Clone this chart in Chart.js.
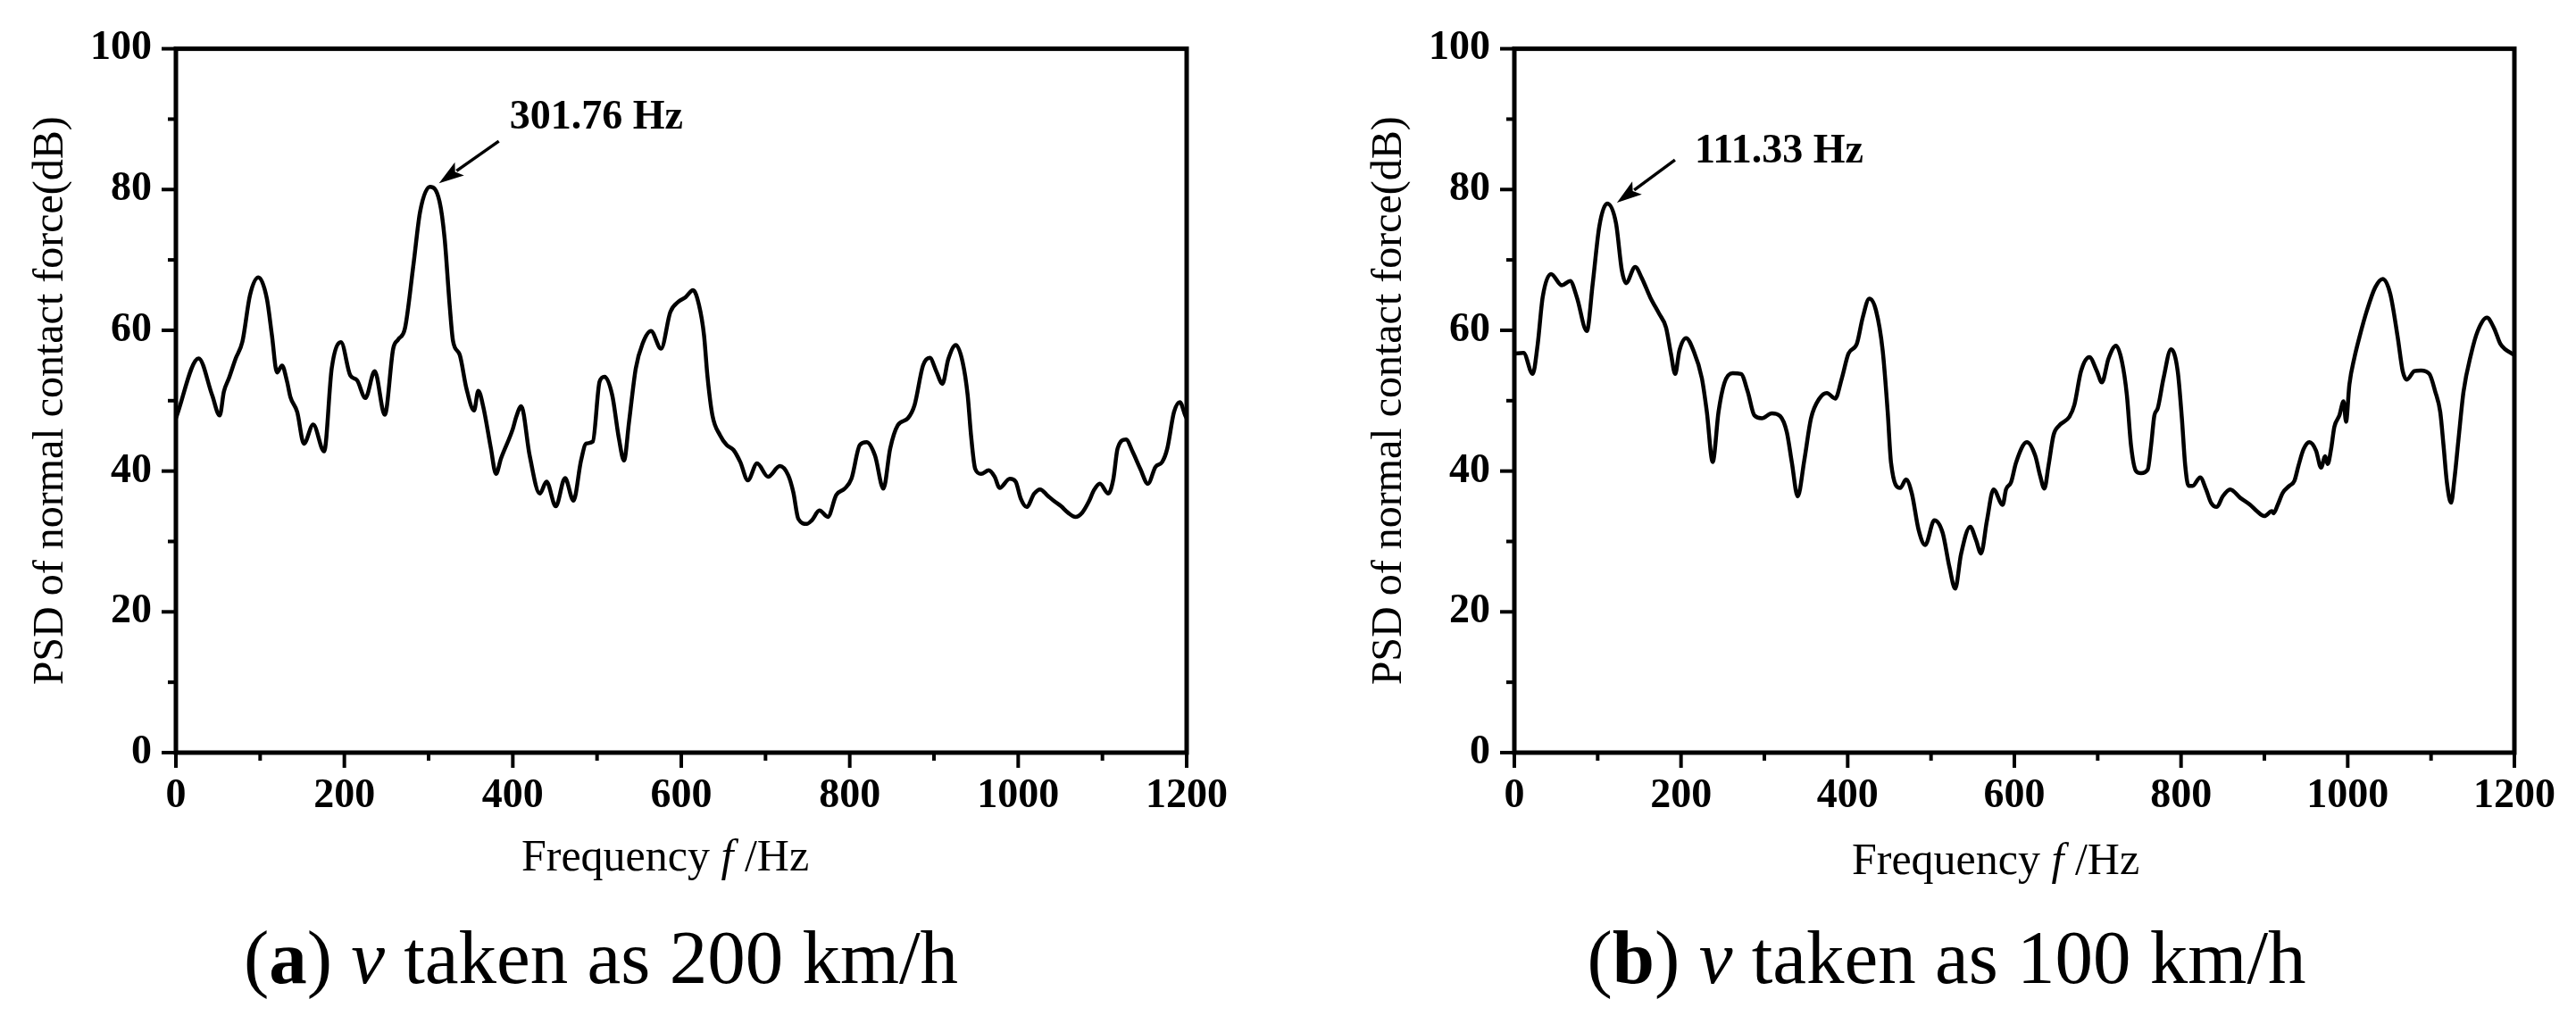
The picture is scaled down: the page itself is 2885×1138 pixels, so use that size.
<!DOCTYPE html>
<html>
<head>
<meta charset="utf-8">
<script src="https://cdn.jsdelivr.net/npm/chart.js@4.4.1/dist/chart.umd.min.js"></script>
<style>
  html, body { margin: 0; padding: 0; background: #fff; }
  body { width: 2885px; height: 1138px; position: relative; overflow: hidden; font-family: 'Liberation Serif', 'Times New Roman', serif; color: #000; }
  .cv { position: absolute; top: 0; }
  .txt { position: absolute; white-space: nowrap; line-height: 1; color: #000; font-family: 'Liberation Serif', 'Times New Roman', serif; }
  .xt { font-size: 50px; transform: translateX(-50%); }
  .cap { font-size: 85px; transform: translateX(-50%); }
</style>
</head>
<body>
<canvas id="chartA" class="cv" style="left:0px" width="1440" height="1000"></canvas>
<canvas id="chartB" class="cv" style="left:1440px" width="1445" height="1000"></canvas>

<div class="txt xt" style="left:745px; top:933px;">Frequency <i>f</i> /Hz</div>
<div class="txt xt" style="left:2235px; top:937px;">Frequency <i>f</i> /Hz</div>
<div class="txt cap" style="left:673px; top:1030px;">(<b>a</b>) <i>v</i> taken as 200 km/h</div>
<div class="txt cap" style="left:2180px; top:1030px;">(<b>b</b>) <i>v</i> taken as 100 km/h</div>

<script>
// ---------------- DATA ----------------
const xTicks = [0, 200, 400, 600, 800, 1000, 1200];
const xMinorTicks = [0, 100, 200, 300, 400, 500, 600, 700, 800, 900, 1000, 1100, 1200];
const yTicks = [0, 20, 40, 60, 80, 100];
const yMinorTicks = [0, 10, 20, 30, 40, 50, 60, 70, 80, 90, 100];

const yTitle = 'PSD of normal contact force(dB)';

// (a) v = 200 km/h
const freqA = [
  0, 27, 43, 52, 57, 63, 71, 79, 88, 98,
  108, 114, 120, 126, 132, 136, 144, 152, 163, 176,
  185, 196, 207, 215, 225, 236, 248, 258, 264, 272,
  282, 290, 301.76, 313, 319, 325, 329, 337, 345, 354,
  359, 365, 374, 380, 386, 400, 404, 410, 420, 432,
  440, 451, 462, 472, 481, 487, 495, 503, 509, 518,
  526, 532, 538, 546, 554, 564, 576, 587, 597, 605,
  614, 621, 627, 631, 637, 646, 654, 662, 670, 679,
  690, 703, 717, 727, 733, 739, 749, 755, 764, 774,
  784, 794, 802, 812, 820, 830, 840, 848, 857, 869,
  877, 887, 895, 903, 910, 917, 926, 934, 940, 944,
  949, 956, 965, 972, 978, 990, 997, 1003, 1010, 1019,
  1026, 1035, 1043, 1051, 1059, 1068, 1076, 1084, 1090, 1097,
  1107, 1113, 1118, 1128, 1136, 1145, 1154, 1163, 1171, 1177,
  1185, 1192, 1198, 1200
];
const psdA = [
  47.5, 56.0, 50.8, 47.9, 51.3, 53.2, 56.0, 58.4, 65.0, 67.5,
  64.5, 59.3, 54.0, 55.0, 52.7, 50.5, 48.4, 43.9, 46.6, 42.8,
  54.6, 58.3, 53.6, 52.9, 50.4, 54.2, 48.0, 57.4, 58.7, 60.3,
  69.3, 76.9, 80.4, 78.3, 73.1, 63.6, 58.5, 56.5, 51.7, 48.6,
  51.4, 49.1, 43.2, 39.6, 41.8, 46.0, 47.7, 49.2, 42.2, 36.8,
  38.5, 35.0, 39.0, 35.8, 41.5, 43.9, 44.2, 52.7, 53.4, 50.8,
  44.6, 41.5, 47.0, 54.6, 58.1, 59.9, 57.4, 62.6, 64.1, 64.7,
  65.7, 63.6, 59.3, 53.6, 47.9, 45.1, 43.7, 43.0, 41.3, 38.7,
  41.1, 39.2, 40.7, 39.4, 37.0, 33.2, 32.5, 33.0, 34.4, 33.5,
  36.6, 37.5, 38.9, 43.7, 44.1, 42.2, 37.5, 43.2, 46.5, 47.5,
  49.4, 55.0, 56.1, 54.1, 52.4, 55.9, 57.9, 55.5, 50.8, 45.1,
  40.3, 39.6, 40.1, 39.2, 37.6, 38.9, 38.5, 36.1, 34.9, 36.8,
  37.4, 36.5, 35.7, 35.0, 34.1, 33.5, 34.1, 35.7, 37.3, 38.2,
  36.8, 38.9, 43.2, 44.5, 42.7, 40.3, 38.2, 40.6, 41.3, 43.2,
  48.4, 49.8, 48.0, 47.5
];
const peakA = { f: 301.76, psd: 80.4, label: '301.76 Hz' };

// (b) v = 100 km/h
const freqB = [
  0, 11, 22, 28, 34, 44, 57, 67, 75, 87,
  94, 102, 111.33, 122, 129, 134, 145, 153, 163, 174,
  182, 188, 193, 198, 206, 215, 225, 231, 238, 245,
  252, 262, 272, 280, 288, 297, 309, 319, 327, 333,
  340, 348, 356, 366, 375, 385, 393, 401, 411, 418,
  426, 434, 442, 448, 452, 463, 470, 477, 485, 493,
  504, 514, 522, 529, 536, 547, 554, 560, 567, 575,
  586, 590, 596, 602, 615, 625, 631, 636, 641, 647,
  654, 666, 672, 680, 690, 699, 705, 713, 722, 729,
  735, 740, 746, 752, 760, 764, 768, 772, 779, 788,
  796, 801, 805, 809, 814, 823, 830, 836, 843, 850,
  859, 871, 883, 891, 900, 909, 911, 916, 922, 930,
  936, 941, 947, 954, 962, 968, 973, 976, 980, 984,
  990, 995, 998, 1002, 1008, 1014, 1023, 1033, 1042, 1051,
  1060, 1066, 1071, 1080, 1088, 1098, 1105, 1111, 1115, 1119,
  1124, 1128, 1133, 1139, 1148, 1156, 1167, 1176, 1183, 1189,
  1197, 1200
];
const psdB = [
  56.7, 56.8, 53.8, 58.0, 64.7, 68.0, 66.4, 67.0, 64.7, 59.9,
  66.6, 74.8, 78.0, 75.2, 68.5, 66.7, 69.0, 67.4, 64.7, 62.3,
  60.4, 56.6, 53.8, 57.1, 58.9, 57.1, 53.2, 48.4, 41.3, 48.4,
  52.5, 53.9, 53.8, 51.3, 47.9, 47.5, 48.2, 47.8, 45.5, 41.2,
  36.4, 41.6, 47.5, 50.3, 51.1, 50.3, 53.2, 56.7, 58.1, 61.8,
  64.5, 62.8, 57.1, 48.4, 41.2, 37.6, 38.8, 36.8, 31.7, 29.5,
  33.0, 31.2, 26.4, 23.3, 28.2, 32.1, 30.2, 28.3, 32.9, 37.4,
  35.2, 37.4, 38.4, 41.2, 44.1, 42.2, 39.3, 37.5, 40.8, 45.1,
  46.5, 47.7, 49.4, 54.2, 56.2, 54.2, 52.6, 56.0, 57.8, 55.6,
  50.8, 43.6, 40.0, 39.7, 40.2, 43.6, 47.9, 48.9, 53.2, 57.3,
  54.2, 47.5, 40.8, 37.9, 37.9, 39.1, 37.4, 35.5, 34.9, 36.4,
  37.4, 36.2, 35.2, 34.3, 33.6, 34.3, 34.0, 35.2, 36.9, 37.9,
  38.6, 40.8, 43.1, 44.1, 42.9, 40.5, 42.1, 41.0, 43.1, 46.3,
  47.9, 49.9, 47.0, 52.3, 56.1, 59.0, 62.8, 66.1, 67.3, 65.2,
  59.0, 54.2, 53.0, 54.2, 54.3, 53.8, 51.3, 48.4, 43.6, 38.4,
  35.5, 38.8, 44.6, 51.3, 56.6, 59.9, 61.8, 60.2, 58.1, 57.3,
  56.7, 56.5
];
const peakB = { f: 111.33, psd: 78.0, label: '111.33 Hz' };

// ---------------- STYLE ----------------
const SERIF = "'Liberation Serif', 'Times New Roman', serif";

const frameTicks = {
  id: 'frameTicks',
  afterDraw(chart, args, opts) {
    const { ctx, chartArea: a, scales: { x, y } } = chart;
    ctx.save();
    ctx.strokeStyle = '#000';
    ctx.lineWidth = 5;
    ctx.strokeRect(a.left, a.top, a.right - a.left, a.bottom - a.top);
    ctx.lineWidth = 4;
    for (const v of xMinorTicks) {
      const px = x.getPixelForValue(v);
      const len = xTicks.includes(v) ? 17 : 9;
      ctx.beginPath(); ctx.moveTo(px, a.bottom); ctx.lineTo(px, a.bottom + len); ctx.stroke();
    }
    for (const v of yMinorTicks) {
      const py = y.getPixelForValue(v);
      const len = yTicks.includes(v) ? 16 : 9;
      ctx.beginPath(); ctx.moveTo(a.left, py); ctx.lineTo(a.left - len, py); ctx.stroke();
    }
    // peak annotation
    const an = opts.annot;
    const px = x.getPixelForValue(an.peak.f);
    const py = y.getPixelForValue(an.peak.psd);
    const hx = px + an.head[0], hy = py + an.head[1];
    const tx = px + an.tail[0], ty = py + an.tail[1];
    const dx = hx - tx, dy = hy - ty, L = Math.hypot(dx, dy);
    const ux = dx / L, uy = dy / L, nx = -uy, ny = ux;
    const hl = 28, hw = 9;
    const bx = hx - ux * hl, by = hy - uy * hl;
    ctx.lineWidth = 3.5;
    ctx.beginPath(); ctx.moveTo(tx, ty); ctx.lineTo(bx + ux * 4, by + uy * 4); ctx.stroke();
    ctx.fillStyle = '#000';
    ctx.beginPath();
    ctx.moveTo(hx, hy);
    ctx.lineTo(bx + nx * hw, by + ny * hw);
    ctx.lineTo(bx + ux * 6, by + uy * 6);
    ctx.lineTo(bx - nx * hw, by - ny * hw);
    ctx.closePath(); ctx.fill();
    ctx.font = 'bold 46px ' + SERIF;
    ctx.textAlign = 'left';
    ctx.textBaseline = 'alphabetic';
    ctx.fillText(an.peak.label, px + an.text[0], py + an.text[1]);
    ctx.restore();
  }
};

function makeChart(id, freq, psd, layout, annot) {
  const pts = freq.map((f, i) => ({ x: f, y: psd[i] }));
  return new Chart(document.getElementById(id), {
    type: 'line',
    data: {
      datasets: [{
        data: pts,
        borderColor: '#000',
        borderWidth: 4.5,
        pointRadius: 0,
        fill: false,
        cubicInterpolationMode: 'monotone'
      }]
    },
    options: {
      responsive: false,
      animation: false,
      events: [],
      layout: { padding: layout.padding },
      plugins: {
        legend: { display: false },
        tooltip: { enabled: false },
        frameTicks: { annot }
      },
      scales: {
        x: {
          type: 'linear', min: 0, max: 1200,
          afterBuildTicks: (s) => { s.ticks = xTicks.map(v => ({ value: v })); },
          ticks: { color: '#000', font: { family: SERIF, size: 46, weight: 'bold' }, padding: 22, maxRotation: 0, autoSkip: false, callback: (v) => String(v) },
          grid: { display: false, drawTicks: false },
          border: { display: false },
          afterFit: (s) => { s.height = 157; }
        },
        y: {
          type: 'linear', min: 0, max: 100,
          afterBuildTicks: (s) => { s.ticks = yTicks.map(v => ({ value: v })); },
          ticks: { color: '#000', font: { family: SERIF, size: 46, weight: 'bold' }, padding: 27, callback: (v) => String(v) },
          grid: { display: false, drawTicks: false },
          border: { display: false },
          title: { display: true, text: yTitle, color: '#000', font: { family: SERIF, size: 48 }, padding: { top: 29, bottom: 0 } },
          afterFit: (s) => { s.width = 197; }
        }
      }
    },
    plugins: [frameTicks]
  });
}

makeChart('chartA', freqA, psdA,
  { padding: { left: 0, right: 111, top: 37, bottom: 0 } },
  { peak: peakA, head: [10, -4], tail: [77, -51], text: [89, -65] });

makeChart('chartB', freqB, psdB,
  { padding: { left: 59, right: 69, top: 44, bottom: 0 } },
  { peak: peakB, head: [11, -1], tail: [76, -49], text: [98, -46] });
</script>
</body>
</html>
